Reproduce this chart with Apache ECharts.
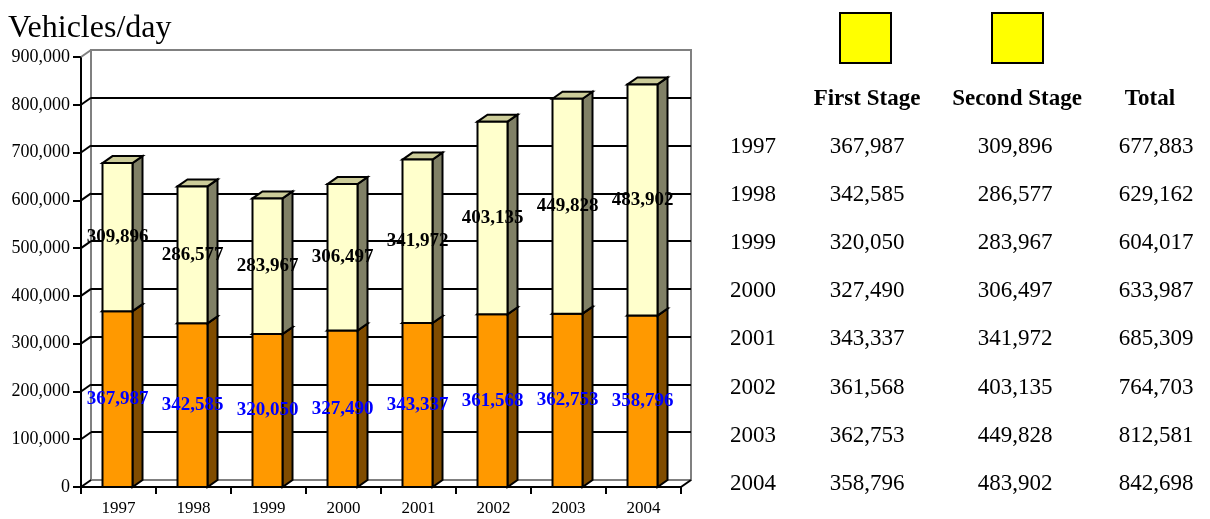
<!DOCTYPE html>
<html>
<head>
<meta charset="utf-8">
<title>Vehicles/day</title>
<script src="https://cdn.jsdelivr.net/npm/echarts@6/dist/echarts.min.js"></script>
<style>
  html, body { margin: 0; padding: 0; background: #ffffff; }
  #chart { width: 1210px; height: 519px; }
</style>
</head>
<body>
<div id="chart"></div>
<script>
// Daily traffic per year, split by construction stage
const years = ['1997', '1998', '1999', '2000', '2001', '2002', '2003', '2004'];
const firstStage = [367987, 342585, 320050, 327490, 343337, 361568, 362753, 358796];
const secondStage = [309896, 286577, 283967, 306497, 341972, 403135, 449828, 483902];
const totals = [677883, 629162, 604017, 633987, 685309, 764703, 812581, 842698];
const yTickValues = [0, 100000, 200000, 300000, 400000, 500000, 600000, 700000, 800000, 900000];
const tableHeaders = ['First Stage', 'Second Stage', 'Total'];

const SERIF = '"Liberation Serif", "Times New Roman", serif';
const DEPTH_X = 10;
const DEPTH_Y = -7;

function withCommas(v) {
  return String(v).replace(/\B(?=(\d{3})+(?!\d))/g, ',');
}

// Box-shaped bar: front face, right side face and top face
function makeBarRenderer(colors, labelColor) {
  return function (params, api) {
    const i = api.value(0);
    const base = api.value(1);
    const top = api.value(2);
    const label = api.value(3);
    const pBase = api.coord([i, base]);
    const pTop = api.coord([i, top]);
    const band = api.size([1, 0])[0];
    const w = band * 0.4;
    const x0 = pBase[0] - w / 2 - 1;
    const x1 = x0 + w;
    const yB = pBase[1];
    const yT = pTop[1];
    const stroke = { stroke: '#000000', lineWidth: 2, lineJoin: 'miter' };
    return {
      type: 'group',
      children: [
        {
          type: 'polygon',
          shape: { points: [[x1, yT], [x1 + DEPTH_X, yT + DEPTH_Y], [x1 + DEPTH_X, yB + DEPTH_Y], [x1, yB]] },
          style: Object.assign({ fill: colors.side }, stroke)
        },
        {
          type: 'polygon',
          shape: { points: [[x0, yT], [x0 + DEPTH_X, yT + DEPTH_Y], [x1 + DEPTH_X, yT + DEPTH_Y], [x1, yT]] },
          style: Object.assign({ fill: colors.top }, stroke)
        },
        {
          type: 'rect',
          shape: { x: x0, y: yT, width: w, height: yB - yT },
          style: Object.assign({ fill: colors.front }, stroke)
        },
        {
          type: 'text',
          z2: 50,
          style: {
            text: withCommas(label),
            x: (x0 + x1) / 2,
            y: (yT + yB) / 2,
            align: 'center',
            verticalAlign: 'middle',
            fill: labelColor,
            font: 'bold 19px ' + SERIF
          }
        }
      ]
    };
  };
}

const firstData = years.map((y, i) => [i, 0, firstStage[i], firstStage[i]]);
const secondData = years.map((y, i) => [i, firstStage[i], firstStage[i] + secondStage[i], secondStage[i]]);

// Short diagonals joining the front axis to the back wall at every tick
const connectorData = yTickValues.map(v => [0, v]);
function renderConnector(params, api) {
  const v = api.value(1);
  const y = api.coord([0, v])[1];
  const x = params.coordSys.x;
  const isTop = v === yTickValues[yTickValues.length - 1];
  const children = [{
    type: 'line',
    shape: { x1: x, y1: y, x2: x + DEPTH_X, y2: y + DEPTH_Y },
    style: { stroke: isTop ? '#808080' : '#000000', lineWidth: 2 }
  }];
  if (v === 0) {
    const xr = params.coordSys.x + params.coordSys.width;
    children.push({
      type: 'line',
      shape: { x1: xr, y1: y, x2: xr + DEPTH_X, y2: y + DEPTH_Y },
      style: { stroke: '#000000', lineWidth: 2 }
    });
  }
  return { type: 'group', children: children };
}

// Table on the right
const tableGraphics = [];
const colX = [753, 867, 1015, 1156];
const headerX = [867, 1017, 1150];
const rowY0 = 147;
const rowStep = 48.1;
[840, 992].forEach(x => {
  tableGraphics.push({
    type: 'rect',
    shape: { x: x, y: 13, width: 51, height: 50 },
    style: { fill: '#FFFF00', stroke: '#000000', lineWidth: 2 }
  });
});
tableHeaders.forEach((h, k) => {
  tableGraphics.push({
    type: 'text',
    x: headerX[k], y: 99,
    style: { text: h, align: 'center', verticalAlign: 'middle', fill: '#000000', font: 'bold 23px ' + SERIF }
  });
});
years.forEach((yr, i) => {
  const cells = [yr, withCommas(firstStage[i]), withCommas(secondStage[i]), withCommas(totals[i])];
  cells.forEach((c, k) => {
    tableGraphics.push({
      type: 'text',
      x: colX[k], y: rowY0 + rowStep * i,
      style: { text: c, align: 'center', verticalAlign: 'middle', fill: '#000000', font: '23px ' + SERIF }
    });
  });
});
tableGraphics.push({
  type: 'text',
  x: 8, y: 29,
  style: { text: 'Vehicles/day', align: 'left', verticalAlign: 'middle', fill: '#000000', font: '32px ' + SERIF }
});

const gridlineColors = yTickValues.map((v, k) => (k === 0 || k === yTickValues.length - 1) ? '#808080' : '#000000');

const chart = echarts.init(document.getElementById('chart'), null, { renderer: 'canvas' });
chart.setOption({
  animation: false,
  backgroundColor: '#ffffff',
  textStyle: { fontFamily: SERIF },
  grid: [
    { left: 81, right: 529, top: 57, bottom: 32, show: false },
    { left: 91, right: 519, top: 50, bottom: 39, show: true, borderColor: '#808080', borderWidth: 2, backgroundColor: 'transparent' }
  ],
  xAxis: [
    {
      type: 'category', gridIndex: 0, data: years,
      axisLine: { show: true, lineStyle: { color: '#000000', width: 2 } },
      axisTick: { show: true, length: 7, lineStyle: { color: '#000000', width: 2 } },
      axisLabel: { color: '#000000', fontFamily: SERIF, fontSize: 17, margin: 13 },
      splitLine: { show: false }
    },
    {
      type: 'category', gridIndex: 1, data: years, show: false
    }
  ],
  yAxis: [
    {
      type: 'value', gridIndex: 0, min: 0, max: 900000, interval: 100000,
      axisLine: { show: true, lineStyle: { color: '#000000', width: 2 } },
      axisTick: { show: true, length: 8, lineStyle: { color: '#000000', width: 2 } },
      axisLabel: { color: '#000000', fontFamily: SERIF, fontSize: 18, margin: 11, formatter: withCommas },
      splitLine: { show: false }
    },
    {
      type: 'value', gridIndex: 1, min: 0, max: 900000, interval: 100000,
      axisLine: { show: false }, axisTick: { show: false }, axisLabel: { show: false },
      splitLine: { show: true, lineStyle: { color: gridlineColors, width: 2 } }
    }
  ],
  series: [
    {
      type: 'custom', name: 'connectors', xAxisIndex: 0, yAxisIndex: 0,
      data: connectorData, encode: { x: 0, y: 1 }, renderItem: renderConnector, z: 1, silent: true
    },
    {
      type: 'custom', name: 'First Stage', xAxisIndex: 0, yAxisIndex: 0,
      data: firstData, encode: { x: 0, y: [1, 2] }, z: 3,
      renderItem: makeBarRenderer({ front: '#FF9900', side: '#804C00', top: '#C07300' }, '#0000FF')
    },
    {
      type: 'custom', name: 'Second Stage', xAxisIndex: 0, yAxisIndex: 0,
      data: secondData, encode: { x: 0, y: [1, 2] }, z: 4,
      renderItem: makeBarRenderer({ front: '#FFFFCC', side: '#808066', top: '#CCCC99' }, '#000000')
    }
  ],
  graphic: tableGraphics
});
</script>
</body>
</html>
